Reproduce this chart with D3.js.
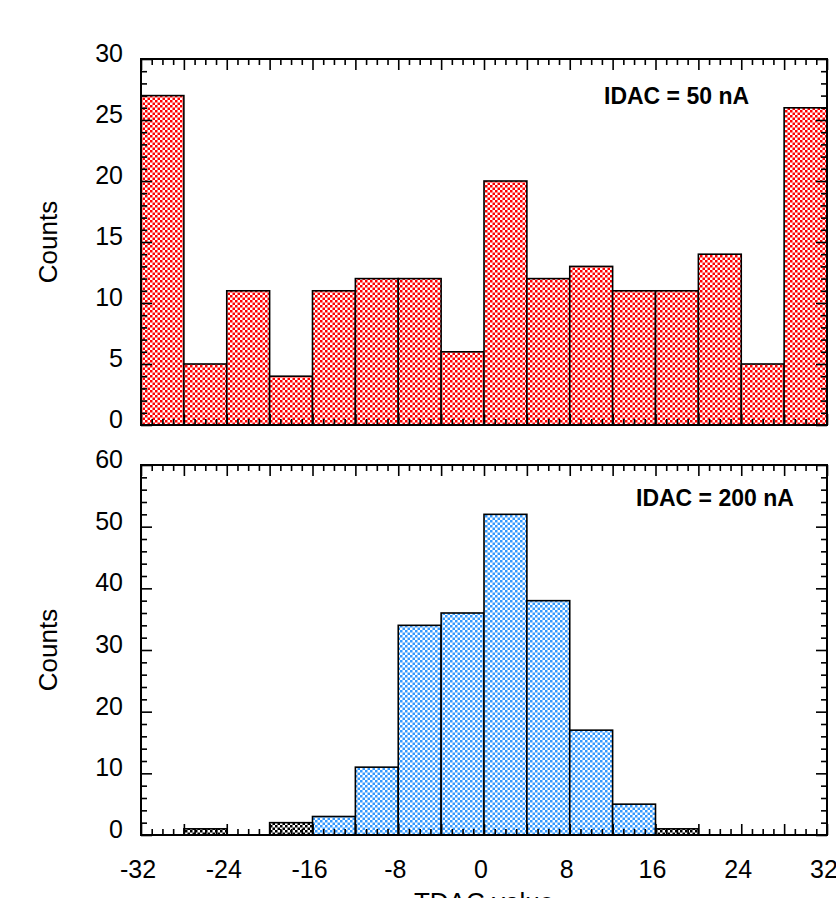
<!DOCTYPE html>
<html>
<head>
<meta charset="utf-8">
<script src="https://cdn.jsdelivr.net/npm/d3@7"></script>
<style>
  html, body { margin: 0; padding: 0; background: #fff; }
  svg { display: block; }
  text { font-family: "Liberation Sans", Arial, Helvetica, sans-serif; fill: #000; }
</style>
</head>
<body>
<svg id="chart" width="836" height="898"></svg>
<script>
// Histogram bin edges (width 4) shared by both panels
const binEdges = [-32, -28, -24, -20, -16, -12, -8, -4, 0, 4, 8, 12, 16, 20, 24, 28, 32];

// IDAC = 50 nA counts per bin
const countsIdac50 = [27, 5, 11, 4, 11, 12, 12, 6, 20, 12, 13, 11, 11, 14, 5, 26];

// IDAC = 200 nA counts per bin (main distribution)
const countsIdac200 = [0, 0, 0, 0, 3, 11, 34, 36, 52, 38, 17, 5, 0, 0, 0, 0];
// IDAC = 200 nA counts per bin drawn in black
const countsIdac200Dark = [0, 1, 0, 2, 0, 0, 0, 0, 0, 0, 0, 0, 1, 0, 0, 0];

const xTickLabels = [-32, -24, -16, -8, 0, 8, 16, 24, 32];
const yTicksTop = [0, 5, 10, 15, 20, 25, 30];
const yTicksBottom = [0, 10, 20, 30, 40, 50, 60];

const panelTitles = ["IDAC = 50 nA", "IDAC = 200 nA"];
const xTitle = "TDAC value";
const yTitle = "Counts";

const svg = d3.select("#chart");

// Checkerboard fills
const defs = svg.append("defs");
function checker(id, color) {
  const c = 2.5;
  const p = defs.append("pattern")
    .attr("id", id)
    .attr("patternUnits", "userSpaceOnUse")
    .attr("width", 2 * c).attr("height", 2 * c);
  p.append("rect").attr("width", 2 * c).attr("height", 2 * c).attr("fill", "#fff");
  p.append("rect").attr("x", 0).attr("y", 0).attr("width", c).attr("height", c).attr("fill", color);
  p.append("rect").attr("x", c).attr("y", c).attr("width", c).attr("height", c).attr("fill", color);
}
checker("chkRed", "#ff0000");
checker("chkBlue", "#3399ff");
checker("chkBlack", "#000000");

const left = 141, right = 827;
const x = d3.scaleLinear().domain([-32, 32]).range([left, right]);

const panels = [
  { top: 59, bottom: 425, max: 30, major: yTicksTop, minorStep: 1,
    series: [{ values: countsIdac50, fill: "url(#chkRed)" }],
    title: panelTitles[0], titleX: 604, titleY: 104, showX: false },
  { top: 465, bottom: 835, max: 60, major: yTicksBottom, minorStep: 2,
    series: [{ values: countsIdac200, fill: "url(#chkBlue)" },
             { values: countsIdac200Dark, fill: "url(#chkBlack)" }],
    title: panelTitles[1], titleX: 636, titleY: 506, showX: true }
];

const majorLen = 11, minorLen = 6;
const xMajor = d3.range(-32, 33, 4);
const xMinor = d3.range(-32, 33, 1).filter(v => v % 4 !== 0);

panels.forEach(pn => {
  const y = d3.scaleLinear().domain([0, pn.max]).range([pn.bottom, pn.top]);
  const g = svg.append("g");

  // bars
  pn.series.forEach(s => {
    const bins = s.values.map((v, i) => ({ x0: binEdges[i], x1: binEdges[i + 1], v }))
      .filter(d => d.v > 0);
    g.append("g").selectAll("rect").data(bins).join("rect")
      .attr("x", d => x(d.x0))
      .attr("y", d => y(d.v))
      .attr("width", d => x(d.x1) - x(d.x0))
      .attr("height", d => y(0) - y(d.v))
      .attr("fill", s.fill)
      .attr("stroke", "#000")
      .attr("stroke-width", 1.6);
  });

  const yMinor = d3.range(0, pn.max + 0.001, pn.minorStep).filter(v => !pn.major.includes(v));

  // inward ticks on all four sides
  const tickGroup = (axis, transform) => {
    const a = g.append("g").attr("transform", transform).call(axis);
    a.select(".domain").remove();
    a.selectAll("line").attr("stroke", "#000").attr("stroke-width", 1.6);
    a.selectAll("text").remove();
  };
  [[xMajor, majorLen], [xMinor, minorLen]].forEach(([vals, len]) => {
    tickGroup(d3.axisBottom(x).tickValues(vals).tickSize(-len), `translate(0,${pn.bottom})`);
    tickGroup(d3.axisTop(x).tickValues(vals).tickSize(-len), `translate(0,${pn.top})`);
  });
  [[pn.major, majorLen], [yMinor, minorLen]].forEach(([vals, len]) => {
    tickGroup(d3.axisLeft(y).tickValues(vals).tickSize(-len), `translate(${left},0)`);
    tickGroup(d3.axisRight(y).tickValues(vals).tickSize(-len), `translate(${right},0)`);
  });

  // frame
  g.append("rect")
    .attr("x", left).attr("y", pn.top)
    .attr("width", right - left).attr("height", pn.bottom - pn.top)
    .attr("fill", "none").attr("stroke", "#000").attr("stroke-width", 2);

  // y tick labels
  g.append("g").selectAll("text").data(pn.major).join("text")
    .attr("x", 123)
    .attr("y", d => y(d) + 3)
    .attr("text-anchor", "end")
    .attr("font-size", 25)
    .text(d => d);

  // y title
  g.append("text")
    .attr("transform", `translate(57,${(pn.top + pn.bottom) / 2}) rotate(-90)`)
    .attr("text-anchor", "middle")
    .attr("font-size", 26)
    .text(yTitle);

  // panel label
  g.append("text")
    .attr("x", pn.titleX).attr("y", pn.titleY)
    .attr("font-size", 23).attr("font-weight", "bold")
    .text(pn.title);

  if (pn.showX) {
    g.append("g").selectAll("text").data(xTickLabels).join("text")
      .attr("x", d => x(d) - 3)
      .attr("y", 878)
      .attr("text-anchor", "middle")
      .attr("font-size", 25)
      .text(d => d);
    g.append("text")
      .attr("x", (left + right) / 2).attr("y", 911)
      .attr("text-anchor", "middle")
      .attr("font-size", 26)
      .text(xTitle);
  }
});
</script>
</body>
</html>
